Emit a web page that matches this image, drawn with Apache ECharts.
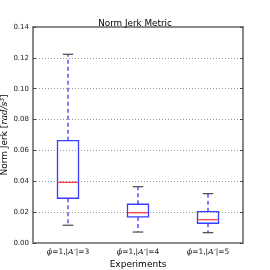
<!DOCTYPE html>
<html><head><meta charset="utf-8">
<script src="https://cdn.jsdelivr.net/npm/echarts@6/dist/echarts.min.js"></script>
<style>html,body{margin:0;padding:0;background:#fff}#c{width:270px;height:270px}</style>
</head><body><div id="c"></div>
<script>
const categories = ['3', '4', '5'];
const whiskerLow = [0.0115, 0.0071, 0.0067];
const q1 = [0.0290, 0.0169, 0.0128];
const median = [0.0393, 0.0196, 0.0151];
const q3 = [0.0663, 0.0251, 0.0203];
const whiskerHigh = [0.1223, 0.0365, 0.0320];
const yTicks = [0, 0.02, 0.04, 0.06, 0.08, 0.10, 0.12, 0.14];

const data = categories.map((c, i) => [i, whiskerLow[i], q1[i], median[i], q3[i], whiskerHigh[i]]);
const rich = {
  i: {fontStyle: 'italic', fontFamily: 'DejaVu Serif', fontSize: 8, color: '#222'},
  n: {fontFamily: 'DejaVu Sans', fontSize: 7.5, color: '#222'}
};
const chart = echarts.init(document.getElementById('c'));
chart.setOption({
  animation: false,
  title: {text: 'Norm Jerk Metric', left: 'center', top: 14,
    textStyle: {fontSize: 8.8, fontWeight: 'normal', color: '#000', fontFamily: 'DejaVu Sans'}},
  grid: {left: 33, right: 27, top: 27, bottom: 27, containLabel: false, outerBoundsMode: 'none',
    show: true, borderColor: '#888', borderWidth: 2, backgroundColor: 'transparent'},
  xAxis: [{
    type: 'category', data: categories, boundaryGap: true,
    axisLine: {show: false},
    axisTick: {inside: true, alignWithLabel: true, length: 3, lineStyle: {color: '#444'}},
    axisLabel: {interval: 0, hideOverlap: false, margin: 5, rich: rich, formatter: v => '{i|ϕ}{n|=1,|}{i|A′}{n||=' + v + '}'},
    name: 'Experiments', nameLocation: 'middle', nameGap: 17, nameMoveOverlap: false,
    nameTextStyle: {fontSize: 9, color: '#000', fontFamily: 'DejaVu Sans'}
  }, {
    type: 'category', data: categories, position: 'top', boundaryGap: true,
    axisLine: {show: false}, axisLabel: {show: false},
    axisTick: {inside: true, alignWithLabel: true, length: 3, lineStyle: {color: '#444'}}
  }],
  yAxis: [{
    type: 'value', min: 0, max: 0.14, interval: 0.02,
    axisLine: {show: false},
    axisTick: {show: true, inside: true, length: 3, lineStyle: {color: '#444'}},
    axisLabel: {fontSize: 7, color: '#222', fontFamily: 'DejaVu Sans', margin: 4, formatter: v => v.toFixed(2)},
    splitLine: {show: true, lineStyle: {type: [1, 2], color: '#999', width: 1}},
    name: '{n|Norm Jerk [}{i|rad/s³}{n|]}', nameLocation: 'middle', nameGap: 24, nameRotate: 90, nameMoveOverlap: false,
    nameTextStyle: {fontSize: 9, color: '#000', fontFamily: 'DejaVu Sans',
      rich: {n: {fontSize: 9, color: '#000', fontFamily: 'DejaVu Sans'}, i: {fontSize: 9, fontStyle: 'italic', fontFamily: 'DejaVu Serif', color: '#000'}}}
  }, {
    type: 'value', min: 0, max: 0.14, interval: 0.02, position: 'right',
    axisLine: {show: false}, axisLabel: {show: false}, splitLine: {show: false},
    axisTick: {show: true, inside: true, length: 3, lineStyle: {color: '#444'}}
  }],
  series: [{
    type: 'custom',
    data: data,
    encode: {x: 0, y: [1, 2, 3, 4, 5]},
    renderItem: function (params, api) {
      const xi = api.value(0);
      const pLo = api.coord([xi, api.value(1)]);
      const pQ1 = api.coord([xi, api.value(2)]);
      const pMed = api.coord([xi, api.value(3)]);
      const pQ3 = api.coord([xi, api.value(4)]);
      const pHi = api.coord([xi, api.value(5)]);
      const band = api.size([1, 0])[0];
      const bw = band * 0.3, cw = band * 0.15;
      const cx = pLo[0];
      const blue = '#2828ff';
      return {type: 'group', children: [
        {type: 'line', shape: {x1: cx, y1: pQ3[1], x2: cx, y2: pHi[1]}, style: {stroke: blue, lineWidth: 1.2, lineDash: [4, 3]}},
        {type: 'line', shape: {x1: cx, y1: pQ1[1], x2: cx, y2: pLo[1]}, style: {stroke: blue, lineWidth: 1.2, lineDash: [4, 3]}},
        {type: 'line', shape: {x1: cx - cw / 2, y1: pHi[1], x2: cx + cw / 2, y2: pHi[1]}, style: {stroke: '#555', lineWidth: 1.3}},
        {type: 'line', shape: {x1: cx - cw / 2, y1: pLo[1], x2: cx + cw / 2, y2: pLo[1]}, style: {stroke: '#555', lineWidth: 1.3}},
        {type: 'rect', shape: {x: cx - bw / 2, y: pQ3[1], width: bw, height: pQ1[1] - pQ3[1]}, style: {fill: 'none', stroke: '#3c3cff', lineWidth: 1.3}},
        {type: 'line', shape: {x1: cx - bw / 2 + 0.7, y1: pMed[1], x2: cx + bw / 2 - 0.7, y2: pMed[1]}, style: {stroke: '#ff3030', lineWidth: 1.2}}
      ]};
    }
  }]
});
</script></body></html>
